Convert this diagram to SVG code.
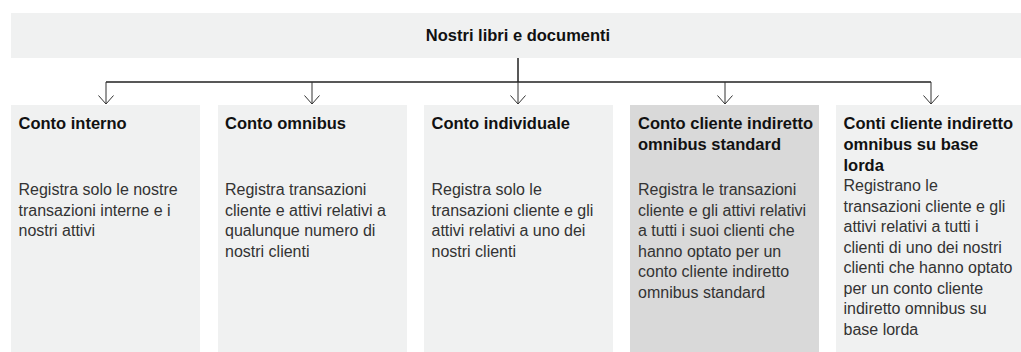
<svg xmlns="http://www.w3.org/2000/svg" width="1021" height="352" viewBox="0 0 1021 352">
<style>
.bg{fill:#f0f1f1}
.bgd{fill:#d9d9d9}
.h{font-family:"Liberation Sans",Arial,sans-serif;font-weight:bold;font-size:16.5px;fill:#111}
.b{font-family:"Liberation Sans",Arial,sans-serif;font-size:16px;fill:#333}
.ln{stroke:#222;stroke-width:1.5;fill:none}
.ar{stroke:#333;stroke-width:1;fill:none}
</style>
<defs>
<marker id="ah" markerWidth="12" markerHeight="18" refX="10" refY="9" orient="auto" markerUnits="userSpaceOnUse">
<path d="M1.5,1.5 L10,9 L1.5,16.5" stroke="#333" stroke-width="1" fill="none"/>
</marker>
</defs>
<rect width="1021" height="352" fill="#ffffff"/>
<g id="root">
<rect class="bg" x="11" y="13" width="1010" height="45"/>
<text class="h" x="518" y="41" text-anchor="middle">Nostri libri e documenti</text>
</g>
<g id="connectors">
<path class="ln" d="M518,58 V82 M106,82 H931"/>
<path class="ar" d="M106,82 V104" marker-end="url(#ah)"/>
<path class="ar" d="M312,82 V104" marker-end="url(#ah)"/>
<path class="ar" d="M518,82 V104" marker-end="url(#ah)"/>
<path class="ar" d="M725,82 V104" marker-end="url(#ah)"/>
<path class="ar" d="M931,82 V104" marker-end="url(#ah)"/>
</g>
<g id="n1">
<rect class="bg" x="11" y="105" width="189" height="247"/>
<text class="h" x="18.5" y="129">Conto interno</text>
<text class="b" x="18.5" y="195"><tspan x="18.5">Registra solo le nostre</tspan><tspan x="18.5" dy="20.5">transazioni interne e i</tspan><tspan x="18.5" dy="20.5">nostri attivi</tspan></text>
</g>
<g id="n2">
<rect class="bg" x="218" y="105" width="189" height="247"/>
<text class="h" x="225" y="129">Conto omnibus</text>
<text class="b" x="225" y="195"><tspan x="225">Registra transazioni</tspan><tspan x="225" dy="20.5">cliente e attivi relativi a</tspan><tspan x="225" dy="20.5">qualunque numero di</tspan><tspan x="225" dy="20.5">nostri clienti</tspan></text>
</g>
<g id="n3">
<rect class="bg" x="424" y="105" width="189" height="247"/>
<text class="h" x="431.5" y="129">Conto individuale</text>
<text class="b" x="431.5" y="195"><tspan x="431.5">Registra solo le</tspan><tspan x="431.5" dy="20.5">transazioni cliente e gli</tspan><tspan x="431.5" dy="20.5">attivi relativi a uno dei</tspan><tspan x="431.5" dy="20.5">nostri clienti</tspan></text>
</g>
<g id="n4">
<rect class="bgd" x="630" y="105" width="189" height="247"/>
<text class="h" x="638" y="129"><tspan x="638">Conto cliente indiretto</tspan><tspan x="638" dy="21">omnibus standard</tspan></text>
<text class="b" x="638" y="195"><tspan x="638">Registra le transazioni</tspan><tspan x="638" dy="20.5">cliente e gli attivi relativi</tspan><tspan x="638" dy="20.5">a tutti i suoi clienti che</tspan><tspan x="638" dy="20.5">hanno optato per un</tspan><tspan x="638" dy="20.5">conto cliente indiretto</tspan><tspan x="638" dy="20.5">omnibus standard</tspan></text>
</g>
<g id="n5">
<rect class="bg" x="836" y="105" width="185" height="247"/>
<text class="h" x="843.5" y="129"><tspan x="843.5">Conti cliente indiretto</tspan><tspan x="843.5" dy="21">omnibus su base</tspan><tspan x="843.5" dy="21">lorda</tspan></text>
<text class="b" x="843.5" y="191"><tspan x="843.5">Registrano le</tspan><tspan x="843.5" dy="20.5">transazioni cliente e gli</tspan><tspan x="843.5" dy="20.5">attivi relativi a tutti i</tspan><tspan x="843.5" dy="20.5">clienti di uno dei nostri</tspan><tspan x="843.5" dy="20.5">clienti che hanno optato</tspan><tspan x="843.5" dy="20.5">per un conto cliente</tspan><tspan x="843.5" dy="20.5">indiretto omnibus su</tspan><tspan x="843.5" dy="20.5">base lorda</tspan></text>
</g>
</svg>
